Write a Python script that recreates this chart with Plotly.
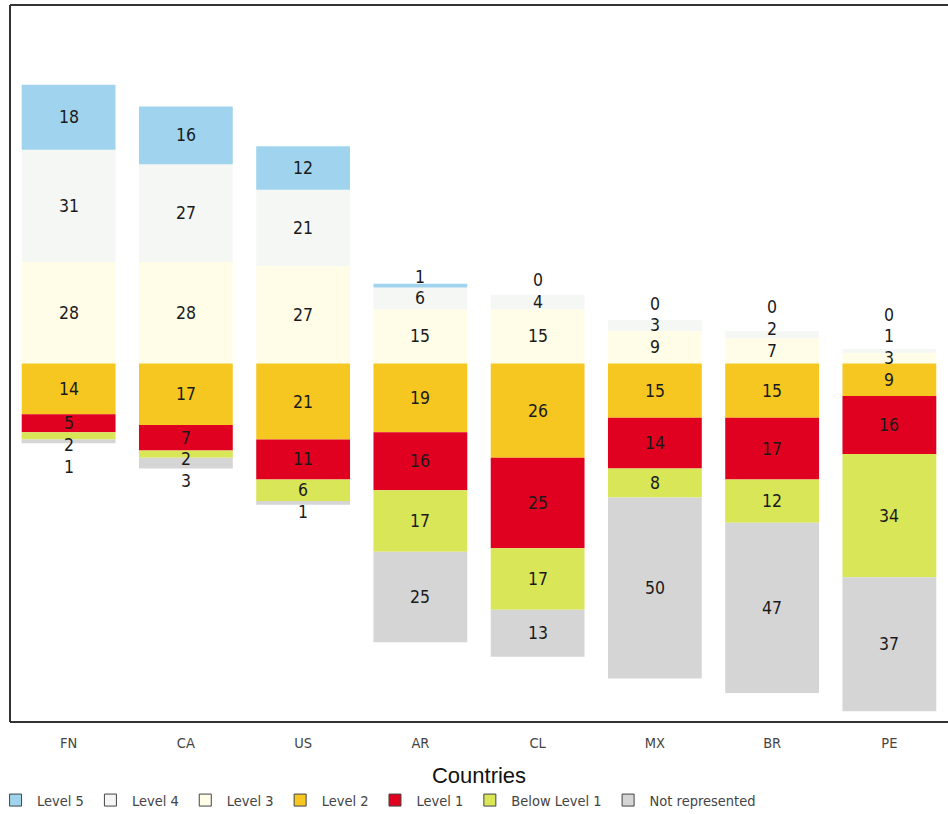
import plotly.graph_objects as go

# Share of students at each proficiency level, by country (percent)
countries = ["FN", "CA", "US", "AR", "CL", "MX", "BR", "PE"]
level_5 = [18, 16, 12, 1, 0, 0, 0, 0]
level_4 = [31, 27, 21, 6, 4, 3, 2, 1]
level_3 = [28, 28, 27, 15, 15, 9, 7, 3]
level_2 = [14, 17, 21, 19, 26, 15, 15, 9]
level_1 = [5, 7, 11, 16, 25, 14, 17, 16]
below_level_1 = [2, 2, 6, 17, 17, 8, 12, 34]
not_represented = [1, 3, 1, 25, 13, 50, 47, 37]

levels = ["Level 5", "Level 4", "Level 3", "Level 2", "Level 1",
          "Below Level 1", "Not represented"]
values = dict(zip(levels, [level_5, level_4, level_3, level_2, level_1,
                           below_level_1, not_represented]))
colors = {
    "Level 5": "#a0d4ee",
    "Level 4": "#f5f7f4",
    "Level 3": "#fffde8",
    "Level 2": "#f5c720",
    "Level 1": "#e0001f",
    "Below Level 1": "#d8e657",
    "Not represented": "#d5d5d5",
}

# Level 3 and above stack upward from the zero line, Level 2 and below downward
upper = ["Level 3", "Level 4", "Level 5"]
lower = ["Level 2", "Level 1", "Below Level 1", "Not represented"]

NARROW = "DejaVu Sans Condensed, Liberation Sans Narrow, Arial Narrow, sans-serif"

fig = go.Figure()
for lvl in upper + lower:
    sign = 1 if lvl in upper else -1
    fig.add_trace(go.Bar(
        x=countries,
        y=[sign * v for v in values[lvl]],
        name=lvl,
        legendgroup=lvl,
        showlegend=False,
        marker=dict(color=colors[lvl], line=dict(width=0)),
        customdata=values[lvl],
        hovertemplate="%{x}<br>" + lvl + ": %{customdata}%<extra></extra>",
    ))

# Legend entries with outlined square swatches
for lvl in levels:
    fig.add_trace(go.Scatter(
        x=[None], y=[None], mode="markers", name=lvl, legendgroup=lvl,
        marker=dict(symbol="square", size=12, color=colors[lvl],
                    line=dict(color="#444444", width=1)),
    ))

# Value labels at segment centres, nudged apart when segments are thin
GAP = 6.0
annotations = []
for i, c in enumerate(countries):
    for group, sign in ((upper, 1), (lower, -1)):
        base = 0.0
        prev = None
        for lvl in group:
            v = values[lvl][i]
            centre = base + sign * v / 2
            if prev is None:
                y = centre
            elif sign > 0:
                y = max(centre, prev + GAP)
            else:
                y = min(centre, prev - GAP)
            annotations.append(dict(
                x=c, y=y, xref="x", yref="y", text=str(v), showarrow=False,
                yanchor="middle", font=dict(family=NARROW, size=17.5, color="#1a1a1a"),
            ))
            prev = y
            base += sign * v

# Frame on the left, top and bottom of the plotting area
frame = dict(type="line", xref="paper", yref="paper",
             line=dict(color="#333333", width=2))
shapes = [
    dict(frame, x0=0, x1=0, y0=0, y1=1),
    dict(frame, x0=0, x1=1, y0=1, y1=1),
    dict(frame, x0=0, x1=1, y0=0, y1=0),
]

fig.update_layout(
    width=948, height=814,
    margin=dict(l=10, r=0, t=5, b=92, autoexpand=False),
    barmode="relative",
    bargap=0.2,
    plot_bgcolor="white",
    paper_bgcolor="white",
    annotations=annotations,
    shapes=shapes,
    legend=dict(
        orientation="h", x=-0.017, xanchor="left", y=-0.109, yanchor="middle",
        font=dict(family=NARROW, size=14.5, color="#444444"),
        itemwidth=33, bgcolor="rgba(0,0,0,0)",
    ),
    xaxis=dict(
        type="category", showgrid=False, zeroline=False, showline=False,
        ticks="", ticklabelstandoff=10,
        tickfont=dict(family=NARROW, size=14.5, color="#444444"),
        title=dict(text="Countries", standoff=18,
                   font=dict(family="Liberation Sans, Arial, sans-serif",
                             size=22, color="#111111")),
        fixedrange=True,
    ),
    yaxis=dict(range=[-99, 99], showgrid=False, zeroline=False,
               showticklabels=False, ticks="", showline=False, fixedrange=True),
    hovermode="closest",
)

fig.write_html("out.html")
